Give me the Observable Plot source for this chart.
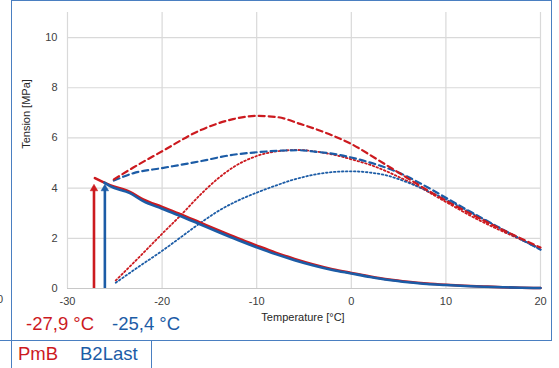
<!DOCTYPE html>
<html><head><meta charset="utf-8">
<script src="https://cdn.jsdelivr.net/npm/d3@7"></script>
<script src="https://cdn.jsdelivr.net/npm/@observablehq/plot@0.6"></script>
<style>
html,body{margin:0;padding:0;background:#fff}
body{width:559px;height:368px;overflow:hidden;position:relative;font-family:"Liberation Sans",Arial,sans-serif}
.abs{position:absolute;white-space:nowrap;line-height:1}
#chart{position:absolute;left:11px;top:0}
</style></head><body>
<div class="abs" style="left:11px;top:0;width:539px;height:340px;border:1.5px solid #4a7fc1;border-bottom:none"></div>
<div class="abs" style="left:0;top:340px;width:552px;height:0;border-top:1.5px solid #4a7fc1"></div>
<div class="abs" style="left:11px;top:340px;width:0;height:30px;border-left:1.5px solid #4a7fc1"></div>
<div class="abs" style="left:151px;top:340px;width:0;height:30px;border-left:1.5px solid #4a7fc1"></div>
<div class="abs" style="left:-3px;top:294px;font-size:11px;color:#404040">0</div>
<div id="chart"></div>
<div class="abs" style="left:303px;top:312px;font-size:11px;color:#262626;transform:translateX(-50%)">Temperature [°C]</div>
<div class="abs" style="left:25.5px;top:114px;font-size:11px;color:#262626;transform:translate(-50%,-50%) rotate(-90deg)">Tension [MPa]</div>
<div class="abs" style="left:26px;top:315px;font-size:18.5px;color:#cc1a1f">-27,9 °C</div>
<div class="abs" style="left:112px;top:315px;font-size:18.5px;color:#1c5ca6">-25,4 °C</div>
<div class="abs" style="left:18px;top:345px;font-size:18.5px;color:#cc1a1f">PmB</div>
<div class="abs" style="left:80px;top:345px;font-size:18.5px;color:#1c5ca6">B2Last</div>
<script>
const xTicks = [-30, -20, -10, 0, 10, 20];
const yTicks = [0, 2, 4, 6, 8, 10];
const pmbSolid = [[-27.1,4.4],[-25.5,4.12],[-23.4,3.85],[-22,3.55],[-20,3.25],[-18,2.95],[-16,2.63],[-14,2.31],[-12,2.0],[-10,1.71],[-8,1.43],[-6,1.18],[-4,0.96],[-2,0.77],[0,0.62],[2,0.48],[4,0.36],[6,0.27],[8,0.2],[10,0.15],[12,0.11],[14,0.08],[16,0.05],[18,0.03],[20,0.02]];
const b2Solid = [[-26.1,4.22],[-25.5,4.08],[-23.4,3.8],[-22,3.48],[-20,3.18],[-18,2.88],[-16,2.56],[-14,2.24],[-12,1.93],[-10,1.64],[-8,1.37],[-6,1.13],[-4,0.92],[-2,0.74],[0,0.6],[2,0.46],[4,0.34],[6,0.25],[8,0.18],[10,0.14],[12,0.1],[14,0.07],[16,0.05],[18,0.03],[20,0.02]];
const pmbDashed = [[-25.1,4.35],[-23,4.83],[-20,5.47],[-16,6.3],[-12.5,6.75],[-10,6.88],[-7.8,6.83],[-5.4,6.56],[-2,6.1],[0,5.76],[2.5,5.2],[5,4.62],[7.5,4.04],[10,3.5],[12.5,3.0],[15,2.52],[17.5,2.07],[20,1.63]];
const b2Dashed = [[-25.1,4.3],[-23,4.6],[-20,4.8],[-16,5.07],[-12.5,5.33],[-10,5.43],[-7,5.5],[-5.5,5.51],[-4,5.46],[-1.5,5.34],[0,5.22],[2.5,4.96],[5,4.62],[7.5,4.15],[10,3.62],[12.5,3.08],[15,2.56],[17.5,2.05],[20,1.55]];
const pmbDotted = [[-24.9,0.32],[-22.5,1.22],[-20,2.18],[-18,2.93],[-16,3.72],[-14.2,4.35],[-12.4,4.85],[-10,5.28],[-7.8,5.47],[-5.7,5.52],[-3.6,5.45],[-1.5,5.3],[0,5.15],[2.5,4.86],[5,4.45],[7.5,3.98],[10,3.45],[12.5,2.92],[15,2.45],[17.5,2.02],[20,1.6]];
const b2Dotted = [[-24.9,0.23],[-22.5,0.86],[-20,1.5],[-18,2.05],[-16,2.6],[-14,3.1],[-12,3.5],[-10,3.82],[-8,4.1],[-6,4.35],[-4,4.53],[-2,4.64],[0,4.67],[2,4.62],[4,4.48],[6,4.22],[8,3.9],[10,3.55],[12.5,3.05],[15,2.55],[17.5,2.05],[20,1.55]];
const arrowTemps = [-27.2, -26.05];
const arrowTension = [4.14, 4.14];
const seriesNames = ["PmB", "B2Last"];

const red = "#cc1a1f", blue = "#1c5ca6";
const colors = [red, blue];
const arrows = arrowTemps.map((t, i) => ({t, top: arrowTension[i], c: colors[i]}));
const lineOpts = (c, extra) => Object.assign({x: d => d[0], y: d => d[1], stroke: c, curve: "monotone-x"}, extra);
const dashed = {strokeWidth: 2.2, strokeDasharray: "6,4"};
const dotted = {strokeWidth: 1.8, strokeDasharray: "1.6,2.4"};
const solid = {strokeWidth: 2.6};

const chart = Plot.plot({
  width: 539, height: 341,
  marginLeft: 56, marginRight: 10, marginTop: 12, marginBottom: 53,
  x: {domain: [-30, 20]},
  y: {domain: [0, 11]},
  style: {fontFamily: "Liberation Sans, Arial, sans-serif", fontSize: "11px", color: "#404040", background: "transparent"},
  marks: [
    Plot.gridX(xTicks, {stroke: "#d9d9d9", strokeOpacity: 1, strokeWidth: 1.2}),
    Plot.gridY(yTicks.slice(1), {stroke: "#d9d9d9", strokeOpacity: 1, strokeWidth: 1.2}),
    Plot.ruleY([0], {stroke: "#c8c8c8", strokeWidth: 1.2}),
    Plot.axisX(xTicks, {tickSize: 0, tickPadding: 9, label: null, tickFormat: d => d}),
    Plot.axisY(yTicks, {tickSize: 0, tickPadding: 10, label: null}),
    Plot.line(pmbDotted, lineOpts(red, dotted)),
    Plot.line(b2Dotted, lineOpts(blue, dotted)),
    Plot.line(b2Dashed, lineOpts(blue, dashed)),
    Plot.line(pmbDashed, lineOpts(red, dashed)),
    Plot.line(pmbSolid, lineOpts(red, solid)),
    Plot.line(b2Solid, lineOpts(blue, solid)),
    Plot.ruleX(arrows, {x: "t", y1: 0, y2: d => d.top - 0.2, stroke: "c", strokeWidth: 2.6}),
    Plot.dot(arrows, {x: "t", y: d => d.top - 0.16, symbol: "triangle", r: 2.8, fill: "c", stroke: "c", strokeWidth: 0.5})
  ]
});
document.getElementById("chart").appendChild(chart);
</script>
</body></html>
